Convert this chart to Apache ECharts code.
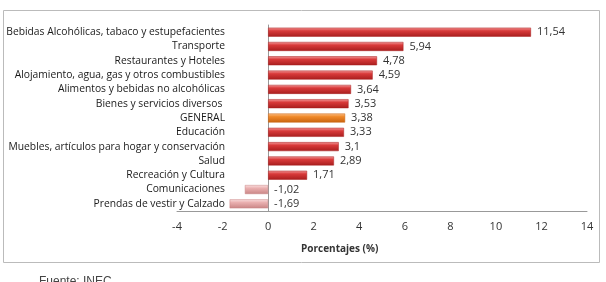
<!DOCTYPE html>
<html>
<head>
<meta charset="utf-8">
<script src="https://cdn.jsdelivr.net/npm/echarts@6/dist/echarts.min.js"></script>
<style>
  html, body { margin: 0; padding: 0; background: #fff; }
  #chart { width: 606px; height: 282px; }
</style>
</head>
<body>
<div id="chart"></div>
<script>
// categories from top to bottom
const categories = [
  "Bebidas Alcohólicas, tabaco y estupefacientes",
  "Transporte",
  "Restaurantes y Hoteles",
  "Alojamiento, agua, gas y otros combustibles",
  "Alimentos y bebidas no alcohólicas",
  "Bienes y servicios diversos ",
  "GENERAL",
  "Educación",
  "Muebles, artículos para hogar y conservación",
  "Salud",
  "Recreación y Cultura",
  "Comunicaciones",
  "Prendas de vestir y Calzado"
];
const values = [11.54, 5.94, 4.78, 4.59, 3.64, 3.53, 3.38, 3.33, 3.1, 2.89, 1.71, -1.02, -1.69];
const xTicks = [-4, -2, 0, 2, 4, 6, 8, 10, 12, 14];

function grad(top, mid, bottom) {
  return new echarts.graphic.LinearGradient(0, 0, 0, 1, [
    { offset: 0, color: top },
    { offset: 0.35, color: mid },
    { offset: 1, color: bottom }
  ]);
}
const redFill = grad("#f29a9a", "#d93a3a", "#a81e1e");
const orangeFill = grad("#fbc08a", "#f08a2a", "#c8620e");
const pinkFill = grad("#fbe0e0", "#eab0b0", "#c98585");

const chart = echarts.init(document.getElementById("chart"));

chart.setOption({
  animation: false,
  grid: {
    left: 177, right: 19, top: 25, bottom: 71,
    containLabel: false, outerBoundsMode: "none"
  },
  xAxis: {
    type: "value",
    min: xTicks[0],
    max: xTicks[xTicks.length - 1],
    interval: 2,
    splitLine: { show: false },
    axisLine: { show: true, lineStyle: { color: "#999", width: 1 } },
    axisTick: { show: false },
    axisLabel: {
      color: "#333", fontSize: 11, fontFamily: "Open Sans", margin: 10,
      formatter: v => String(v)
    }
  },
  yAxis: {
    type: "category",
    data: categories,
    inverse: true,
    axisLine: { show: true, onZero: true, lineStyle: { color: "#999", width: 1 } },
    axisTick: { show: false },
    axisLabel: {
      // labels sit just left of the zero line, not the plot edge
      color: "#1a1a1a", fontSize: 10.3, fontFamily: "Open Sans", margin: -48
    }
  },
  series: [{
    type: "bar",
    barWidth: 9,
    data: values.map((v, i) => ({
      value: v,
      itemStyle: {
        color: categories[i] === "GENERAL" ? orangeFill : (v < 0 ? pinkFill : redFill),
        borderColor: categories[i] === "GENERAL" ? "#c8620e" : (v < 0 ? "#c98585" : "#a81e1e"),
        borderWidth: 0.5
      }
    })),
    label: {
      show: true,
      position: "right",
      distance: 6,
      color: "#333",
      fontSize: 11,
      fontFamily: "Open Sans",
      formatter: p => String(p.value).replace(".", ",")
    }
  }],
  graphic: [
    {
      type: "rect",
      shape: { x: 3.5, y: 10.5, width: 596, height: 252 },
      style: { fill: null, stroke: "#bbb", lineWidth: 1 },
      silent: true
    },
    {
      type: "text",
      left: 340 - 39,
      top: 244,
      style: {
        text: "Porcentajes (%)",
        fill: "#333",
        font: "bold 10px 'Open Sans'"
      }
    },
    {
      type: "text",
      left: 39,
      top: 276,
      style: {
        text: "Fuente: INEC",
        fill: "#444",
        font: "12px Arial"
      }
    }
  ]
});
</script>
</body>
</html>
